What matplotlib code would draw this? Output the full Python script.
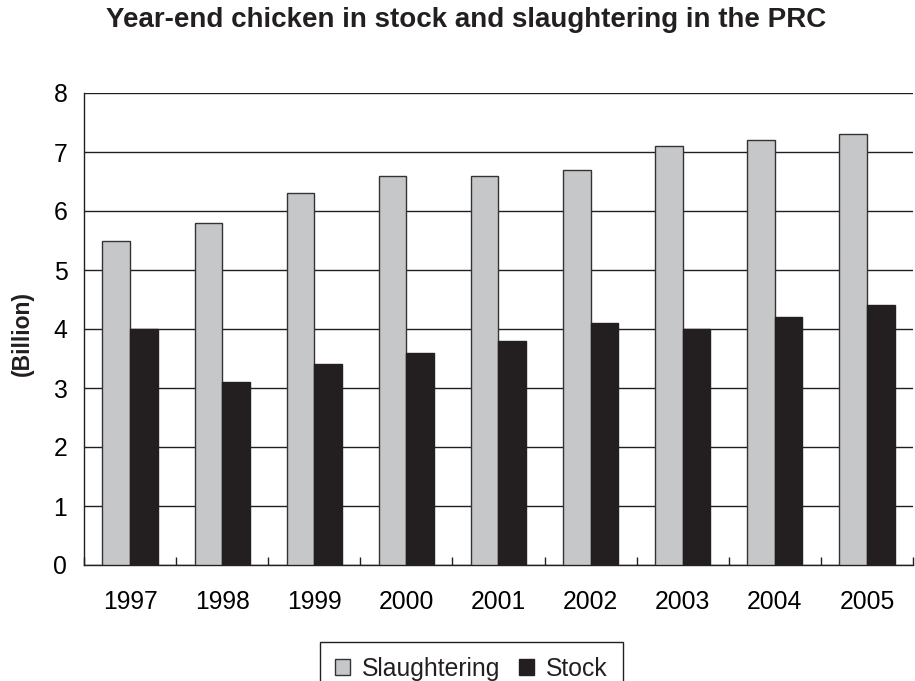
import numpy as np
import matplotlib.pyplot as plt
from matplotlib.ticker import FixedLocator, NullFormatter

plt.rcParams['font.family'] = ['Liberation Sans', 'DejaVu Sans']

years = ['1997', '1998', '1999', '2000', '2001', '2002', '2003', '2004', '2005']
slaughtering = [5.5, 5.8, 6.3, 6.6, 6.6, 6.7, 7.1, 7.2, 7.3]
stock = [4.0, 3.1, 3.4, 3.6, 3.8, 4.1, 4.0, 4.2, 4.4]

gray = '#c6c7c9'
dark = '#231f20'
fs = 17.8

W, H = 915, 681
fig = plt.figure(figsize=(W/100, H/100), dpi=100)
ax = fig.add_axes([84/W, 116/H, 829/W, 472/H])

x = np.arange(len(years))
w = 0.3
ax.bar(x - w/2, slaughtering, w, color=gray, edgecolor='#333333', linewidth=1.0,
       label='Slaughtering', zorder=3)
ax.bar(x + w/2, stock, w, color=dark, edgecolor=dark, linewidth=1.0,
       label='Stock', zorder=3)

ax.set_xlim(-0.5, len(years) - 0.5)
ax.set_ylim(0, 8)
ax.set_yticks(range(0, 9))
ax.yaxis.grid(True, color=dark, linewidth=1.0, zorder=0)
ax.tick_params(axis='y', length=0, labelsize=fs, pad=12)

ax.set_xticks(x)
ax.set_xticklabels(years)
ax.tick_params(axis='x', which='major', length=0, labelsize=fs, pad=18)
ax.xaxis.set_minor_locator(FixedLocator(np.arange(-0.5, len(years) - 0.4, 1)))
ax.xaxis.set_minor_formatter(NullFormatter())
ax.tick_params(axis='x', which='minor', direction='in', length=6, width=1.0, color=dark)

for s in ['top', 'right']:
    ax.spines[s].set_visible(False)
for s in ['left', 'bottom']:
    ax.spines[s].set_color(dark)
    ax.spines[s].set_linewidth(1.0)

# y label placed in figure coords
fig.text(22/W, 1 - 334/H, '(Billion)', rotation=90, ha='center', va='center',
         fontsize=16.5, fontweight='bold', color=dark)

# title: size it so it spans the chart width
title = fig.text(466/W, 1 - 27/H, 'Year-end chicken in stock and slaughtering in the PRC',
                 ha='center', va='baseline', fontsize=18, fontweight='bold', color=dark)
fig.canvas.draw()
tw = title.get_window_extent().width
title.set_fontsize(min(20, 18 * 757 / tw))

leg = fig.legend(loc='upper center', bbox_to_anchor=(0.515, 1 - 642/H), ncol=2, fontsize=fs,
                 frameon=True, fancybox=False, edgecolor=dark, framealpha=1,
                 handlelength=0.6, handleheight=0.6, handletextpad=0.5,
                 columnspacing=0.75, borderpad=0.6, borderaxespad=0)
leg.get_frame().set_linewidth(1.0)
for t in leg.get_texts():
    t.set_color(dark)

fig.savefig('out.png', dpi=100)
plt.close()
